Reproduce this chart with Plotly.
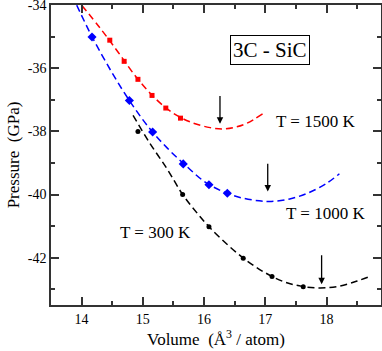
import plotly.graph_objects as go

# fitted curves
red_x = [14.0, 14.3, 14.6, 14.9, 15.2, 15.5, 15.8, 16.1, 16.3, 16.5, 16.7, 16.96]
red_y = [-34.0, -34.72, -35.5, -36.3, -36.95, -37.43, -37.72, -37.88, -37.92, -37.87, -37.74, -37.44]

blue_x = [13.92, 14.17, 14.5, 14.8, 15.1, 15.4, 15.7, 16.0, 16.3, 16.6, 16.9, 17.1, 17.4, 17.7, 18.0, 18.21]
blue_y = [-34.0, -35.0, -36.15, -37.08, -37.88, -38.53, -39.08, -39.58, -39.9, -40.1, -40.2, -40.22, -40.14, -39.95, -39.65, -39.34]

black_x = [14.84, 15.1, 15.4, 15.65, 15.9, 16.1, 16.4, 16.7, 17.0, 17.3, 17.6, 17.9, 18.2, 18.5, 18.7]
black_y = [-37.49, -38.33, -39.2, -40.0, -40.62, -41.06, -41.62, -42.1, -42.48, -42.76, -42.91, -42.96, -42.91, -42.74, -42.6]

# simulation points
red_px = [14.46, 14.695, 14.92, 15.15, 15.375, 15.615]
red_py = [-35.11, -35.78, -36.35, -36.86, -37.26, -37.58]

blue_px = [14.17, 14.78, 15.16, 15.66, 16.08, 16.38]
blue_py = [-35.01, -37.02, -38.02, -39.03, -39.69, -39.96]

black_px = [14.92, 15.65, 16.08, 16.64, 17.11, 17.62]
black_py = [-38.0, -40.0, -41.02, -42.02, -42.6, -42.92]

# equilibrium volume arrows: x, top, bottom
arrow_x = [16.26, 17.04, 17.92]
arrow_top = [-36.83, -38.98, -41.88]
arrow_bot = [-37.76, -39.9, -42.84]

labels = ["T = 1500 K", "T = 1000 K", "T = 300 K"]
label_x = [17.82, 17.99, 15.20]
label_y = [-37.70, -40.61, -41.2]

x_ticks = [14, 15, 16, 17, 18]
x_ticktext = ["14", "15", "16", "17", "18"]
y_ticks = [-42, -40, -38, -36, -34]
y_ticktext = ["-42", "-40", "-38", "-36", "-34"]

FONT = "Liberation Serif, Times New Roman, serif"

fig = go.Figure()
for cx, cy, px, py, col, sym, sz in [
    (red_x, red_y, red_px, red_py, "red", "square", 5),
    (blue_x, blue_y, blue_px, blue_py, "blue", "diamond", 7),
    (black_x, black_y, black_px, black_py, "black", "circle", 5),
]:
    fig.add_trace(go.Scatter(x=cx, y=cy, mode="lines", line_shape="spline",
                             line=dict(color=col, width=1.5, dash="7px,4px")))
    fig.add_trace(go.Scatter(x=px, y=py, mode="markers",
                             marker=dict(color=col, symbol=sym, size=sz)))

for ax_, t, b in zip(arrow_x, arrow_top, arrow_bot):
    fig.add_annotation(x=ax_, y=b, ax=ax_, ay=t, xref="x", yref="y", axref="x", ayref="y",
                       showarrow=True, arrowhead=2, arrowsize=1, arrowwidth=1.3,
                       arrowcolor="black", text="")

for t, x, y in zip(labels, label_x, label_y):
    fig.add_annotation(x=x, y=y, text=t, showarrow=False,
                       font=dict(family=FONT, size=17, color="black"))

fig.add_annotation(x=17.07, y=-35.43, text="3C - SiC", showarrow=False,
                   bordercolor="black", borderwidth=1, borderpad=2,
                   font=dict(family=FONT, size=21, color="black"))

axis = dict(showgrid=False, zeroline=False, showline=True, linecolor="#333",
            linewidth=1.5, mirror="ticks", ticks="inside", ticklen=8,
            tickwidth=1.5, tickcolor="#333", automargin=False,
            ticklabeloverflow="allow",
            tickfont=dict(family=FONT, size=14, color="black"),
            minor=dict(ticks="inside", ticklen=4, tickwidth=1.5, tickcolor="#333"))

fig.update_xaxes(range=[13.5, 18.89], tickvals=x_ticks, ticktext=x_ticktext,
                 minor_tickvals=[13.5, 14.5, 15.5, 16.5, 17.5, 18.5],
                 title=dict(text="Volume  (Å<sup>3</sup> / atom)", standoff=6,
                            font=dict(family=FONT, size=17, color="black")), **axis)
fig.update_yaxes(range=[-43.5, -33.995], tickvals=y_ticks, ticktext=y_ticktext,
                 minor_tickvals=[-43, -41, -39, -37, -35],
                 title=dict(text="Pressure  (GPa)", standoff=4,
                            font=dict(family=FONT, size=17, color="black")), **axis)

fig.update_layout(width=382, height=351, showlegend=False,
                  margin=dict(l=51, r=1, t=5, b=46),
                  plot_bgcolor="white", paper_bgcolor="white")

fig.write_html("out.html", config={"displayModeBar": False},
               post_script="document.body.style.margin='0';")
